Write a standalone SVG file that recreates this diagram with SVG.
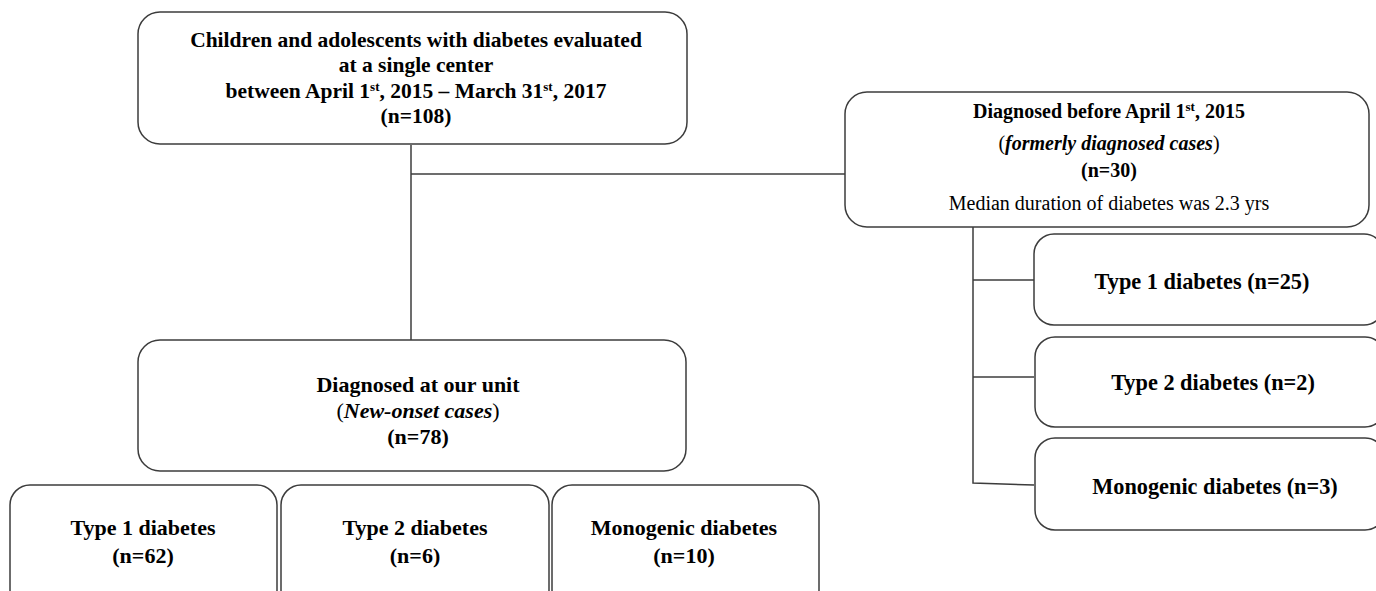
<svg xmlns="http://www.w3.org/2000/svg" width="1376" height="591" viewBox="0 0 1376 591">
<style>
.box{fill:#fff;stroke:#3c3c3c;stroke-width:1.5}
.ln{fill:none;stroke:#3c3c3c;stroke-width:1.5}
text{font-family:"Liberation Serif","Times New Roman",serif;fill:#000;text-anchor:middle}
.t{font-weight:bold;font-size:21.5px}
.f{font-weight:bold;font-size:20px}
.r{font-size:20px}
.c{font-weight:bold;font-size:22.3px}
.m{font-weight:bold;font-size:22px}
.sup{font-size:13px}
.n{font-weight:normal}
.i{font-style:italic}
</style>
<rect width="1376" height="591" fill="#fff"/>
<g id="connectors">
<path class="ln" d="M411 145 V340"/>
<path class="ln" d="M411 174 H845"/>
<path class="ln" d="M973 227 V483 L1034 485"/>
<path class="ln" d="M973 280 H1034"/>
<path class="ln" d="M973 377 H1034"/>
</g>
<g id="top">
<rect class="box" x="138" y="12" width="549" height="132" rx="22"/>
<text class="t" x="416" y="47">Children and adolescents with diabetes evaluated</text>
<text class="t" x="416" y="72">at a single center</text>
<text class="t" x="416" y="98">between April 1<tspan class="sup" dy="-7">st</tspan><tspan dy="7">, 2015 –  March 31</tspan><tspan class="sup" dy="-7">st</tspan><tspan dy="7">, 2017</tspan></text>
<text class="t" x="416" y="123">(n=108)</text>
</g>
<g id="formerly">
<rect class="box" x="845" y="92" width="524" height="135" rx="22"/>
<text class="f" x="1109" y="118">Diagnosed before April 1<tspan class="sup" font-size="12" dy="-7">st</tspan><tspan dy="7">, 2015</tspan></text>
<text class="f" x="1109" y="150"><tspan class="n">(</tspan><tspan class="i">formerly diagnosed cases</tspan><tspan class="n">)</tspan></text>
<text class="f" x="1109" y="177">(n=30)</text>
<text class="r" x="1109" y="210">Median duration of diabetes was 2.3 yrs</text>
</g>
<g id="r-t1">
<rect class="box" x="1034" y="234" width="350" height="91" rx="20"/>
<text class="c" x="1202" y="289">Type 1 diabetes (n=25)</text>
</g>
<g id="r-t2">
<rect class="box" x="1035" y="337" width="350" height="90" rx="20"/>
<text class="c" x="1213" y="390">Type 2 diabetes (n=2)</text>
</g>
<g id="r-mono">
<rect class="box" x="1035" y="438" width="350" height="92" rx="20"/>
<text class="c" x="1215" y="494">Monogenic diabetes (n=3)</text>
</g>
<g id="newonset">
<rect class="box" x="138" y="340" width="548" height="131" rx="22"/>
<text class="m" x="418" y="392">Diagnosed at our unit</text>
<text class="m" x="418" y="418"><tspan class="n">(</tspan><tspan class="i">New-onset cases</tspan><tspan class="n">)</tspan></text>
<text class="m" x="418" y="444">(n=78)</text>
</g>
<g id="b-t1">
<rect class="box" x="10" y="485" width="267" height="125" rx="20"/>
<text class="m" x="143" y="535">Type 1 diabetes</text>
<text class="m" x="143" y="563">(n=62)</text>
</g>
<g id="b-t2">
<rect class="box" x="281" y="485" width="268" height="125" rx="20"/>
<text class="m" x="415" y="535">Type 2 diabetes</text>
<text class="m" x="415" y="563">(n=6)</text>
</g>
<g id="b-mono">
<rect class="box" x="552" y="485" width="267" height="125" rx="20"/>
<text class="m" x="684" y="535">Monogenic diabetes</text>
<text class="m" x="684" y="563">(n=10)</text>
</g>
</svg>
